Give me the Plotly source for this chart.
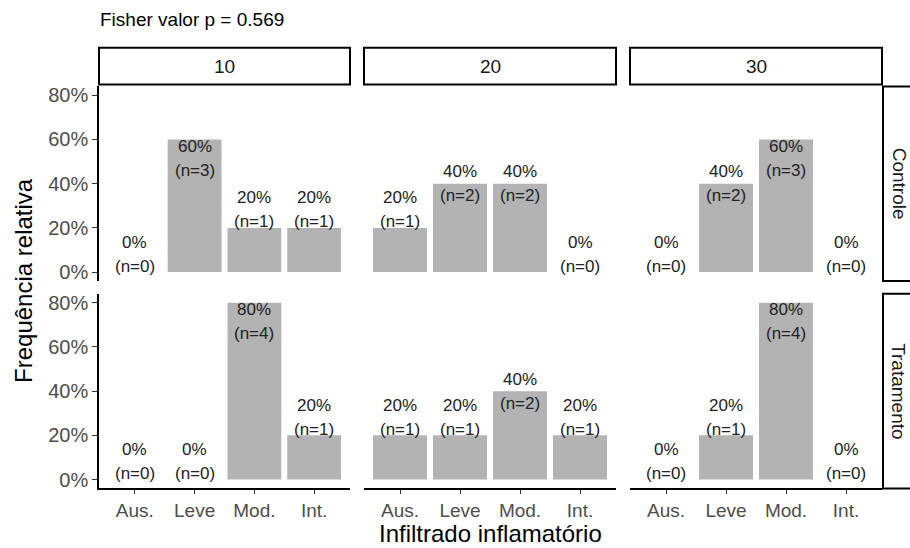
import plotly.graph_objects as go

W, H = 910, 548

categorias = ["Aus.", "Leve", "Mod.", "Int."]
tempos = ["10", "20", "30"]
grupos = ["Controle", "Tratamento"]

# relative frequencies and counts per panel (group x time)
pct_controle_10 = [0.0, 0.6, 0.2, 0.2]
n_controle_10 = [0, 3, 1, 1]
pct_controle_20 = [0.2, 0.4, 0.4, 0.0]
n_controle_20 = [1, 2, 2, 0]
pct_controle_30 = [0.0, 0.4, 0.6, 0.0]
n_controle_30 = [0, 2, 3, 0]
pct_tratamento_10 = [0.0, 0.0, 0.8, 0.2]
n_tratamento_10 = [0, 0, 4, 1]
pct_tratamento_20 = [0.2, 0.2, 0.4, 0.2]
n_tratamento_20 = [1, 1, 2, 1]
pct_tratamento_30 = [0.0, 0.2, 0.8, 0.0]
n_tratamento_30 = [0, 1, 4, 0]

titulo = "Fisher valor p = 0.569"
x_titulo = "Infiltrado inflamatório"
y_titulo = "Frequência relativa"
y_ticks = [0, 0.2, 0.4, 0.6, 0.8]

pct = {("Controle", "10"): pct_controle_10, ("Controle", "20"): pct_controle_20,
       ("Controle", "30"): pct_controle_30, ("Tratamento", "10"): pct_tratamento_10,
       ("Tratamento", "20"): pct_tratamento_20, ("Tratamento", "30"): pct_tratamento_30}
cnt = {("Controle", "10"): n_controle_10, ("Controle", "20"): n_controle_20,
       ("Controle", "30"): n_controle_30, ("Tratamento", "10"): n_tratamento_10,
       ("Tratamento", "20"): n_tratamento_20, ("Tratamento", "30"): n_tratamento_30}

# layout (pixels)
col_x = [(99, 350), (364, 616), (630, 882)]
row_y = [(85, 281), (294, 490)]
strip_top = (46, 83)
strip_right_x = (883, 940)

FONT = "Liberation Sans, Arial, Helvetica, sans-serif"
fig = go.Figure()
layout = dict(
    width=W, height=H, margin=dict(l=0, r=0, t=0, b=0),
    paper_bgcolor="white", plot_bgcolor="white", showlegend=False,
    font=dict(family=FONT), bargap=0.1,
)
annotations = []
shapes = []

for r, g in enumerate(grupos):
    for c, t in enumerate(tempos):
        idx = r * 3 + c + 1
        xs = "" if idx == 1 else str(idx)
        vals = pct[(g, t)]
        ns = cnt[(g, t)]
        fig.add_trace(go.Bar(
            x=categorias, y=vals, width=0.9,
            marker=dict(color="#b3b3b3", line=dict(width=0)),
            xaxis="x" + xs, yaxis="y" + xs, hoverinfo="skip",
        ))
        x0, x1 = col_x[c]
        y0, y1 = row_y[r]
        bottom = r == len(grupos) - 1
        left = c == 0
        layout["xaxis" + xs] = dict(
            domain=[x0 / W, x1 / W], anchor="y" + xs, type="category",
            categoryorder="array", categoryarray=categorias, range=[-0.6, 3.6],
            showline=bottom, linecolor="black", linewidth=1.6,
            ticks="outside" if bottom else "", ticklen=4, tickwidth=1.4, tickcolor="#333333",
            showticklabels=bottom, tickfont=dict(size=19, color="#4d4d4d"),
            showgrid=False, zeroline=False, fixedrange=True,
        )
        layout["yaxis" + xs] = dict(
            domain=[1 - y1 / H, 1 - y0 / H], anchor="x" + xs,
            range=[-0.04, 0.84], tickvals=y_ticks, tickformat=".0%",
            showline=left, linecolor="black", linewidth=1.6,
            ticks="outside" if left else "", ticklen=5, tickwidth=1.4, tickcolor="#333333",
            showticklabels=left, tickfont=dict(size=20, color="#4d4d4d"),
            showgrid=False, zeroline=False, fixedrange=True,
        )
        # bar labels
        for cat, v, n in zip(categorias, vals, ns):
            off = 18 if v < 0.3 else (0 if v < 0.5 else -19)
            for txt, dy in ((f"{round(v * 100)}%", 12), (f"(n={n})", -12)):
                annotations.append(dict(
                    x=cat, y=v, xref="x" + xs, yref="y" + xs, text=txt,
                    showarrow=False, yshift=off + dy, yanchor="middle", xanchor="center",
                    font=dict(size=17, color="#222222", family=FONT),
                ))

# top strips
for c, t in enumerate(tempos):
    x0, x1 = col_x[c]
    shapes.append(dict(type="rect", xref="paper", yref="paper",
                       x0=x0 / W, x1=x1 / W, y0=1 - strip_top[1] / H, y1=1 - strip_top[0] / H,
                       line=dict(color="black", width=2), fillcolor="white", layer="below"))
    annotations.append(dict(x=(x0 + x1) / 2 / W, y=1 - (strip_top[0] + strip_top[1]) / 2 / H,
                            xref="paper", yref="paper", text=t, showarrow=False,
                            xanchor="center", yanchor="middle",
                            font=dict(size=19, color="#1a1a1a", family=FONT)))
# right strips
for r, g in enumerate(grupos):
    y0, y1 = row_y[r]
    shapes.append(dict(type="rect", xref="paper", yref="paper",
                       x0=strip_right_x[0] / W, x1=strip_right_x[1] / W,
                       y0=1 - y1 / H, y1=1 - y0 / H,
                       line=dict(color="black", width=2), fillcolor="white", layer="below"))
    annotations.append(dict(x=899 / W, y=1 - (y0 + y1) / 2 / H, xref="paper", yref="paper",
                            text=g, showarrow=False, textangle=90,
                            xanchor="center", yanchor="middle",
                            font=dict(size=19, color="#1a1a1a", family=FONT)))

# titles
annotations.append(dict(x=98 / W, y=1 - 18 / H, xref="paper", yref="paper", text=titulo,
                        showarrow=False, xanchor="left", yanchor="middle",
                        font=dict(size=19, color="black", family=FONT)))
annotations.append(dict(x=490 / W, y=1 - 535 / H, xref="paper", yref="paper", text=x_titulo,
                        showarrow=False, xanchor="center", yanchor="middle",
                        font=dict(size=24, color="black", family=FONT)))
annotations.append(dict(x=24 / W, y=1 - 281 / H, xref="paper", yref="paper", text=y_titulo,
                        showarrow=False, textangle=-90, xanchor="center", yanchor="middle",
                        font=dict(size=24, color="black", family=FONT)))

layout["annotations"] = annotations
layout["shapes"] = shapes
fig.update_layout(**layout)
fig.write_html("out.html")
